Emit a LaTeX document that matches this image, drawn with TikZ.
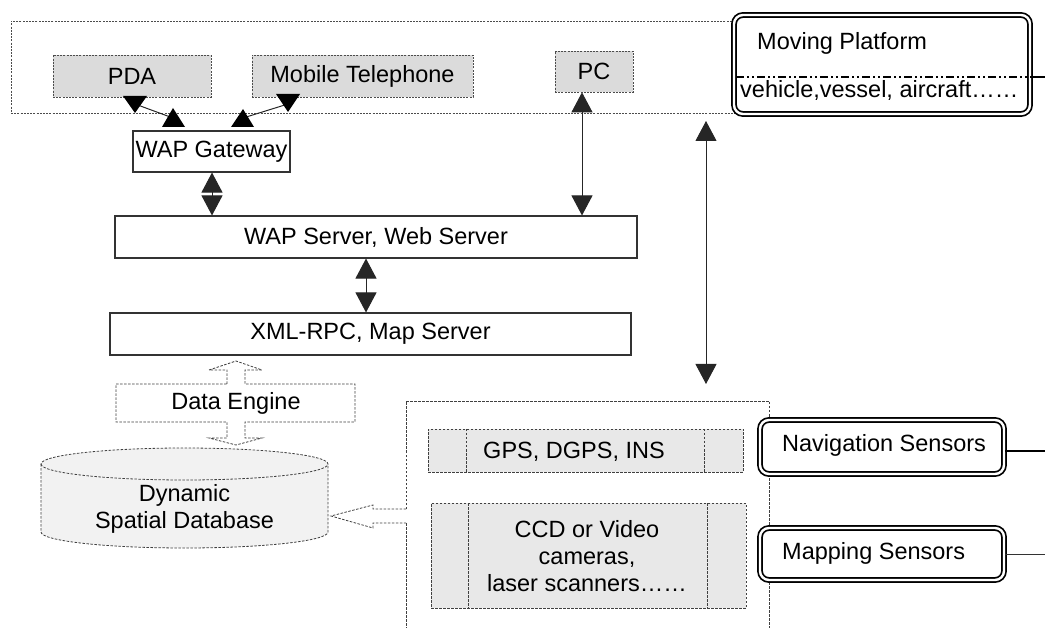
\documentclass[tikz,border=0pt]{standalone}
\usepackage{fontspec}
\setmainfont{Liberation Sans}
\usetikzlibrary{arrows.meta,calc}
\begin{document}
\begin{tikzpicture}[x=1pt,y=-1pt,
  font=\fontsize{23.5}{27}\selectfont,
  dsh/.style={draw=black!75, line width=0.8pt, dash pattern=on 2.5pt off 1.5pt},
  dtd/.style={draw=black!70, line width=0.7pt, dash pattern=on 2pt off 1.2pt},
  graybox/.style={dtd, fill=black!14, inner sep=0pt},
  lightbox/.style={dsh, fill=black!9, inner sep=0pt},
  solidbox/.style={draw=black!80, line width=1.1pt, fill=white, inner sep=0pt},
  dblbox/.style={draw=black, line width=1.7pt, double=white, double distance=2.4pt, rounded corners=9pt, inner sep=0pt},
  conn/.style={draw=black!85, line width=1pt},
  biarrow/.style={conn, {Triangle[width=21pt,length=20pt]}-{Triangle[width=21pt,length=20pt]}},
  lbl/.style={inner sep=0pt, anchor=west},
  txt/.style={inner sep=0pt, align=center}
]
\useasboundingbox (0,0) rectangle (1045,628);

% top zone
\node[dtd, minimum width=724pt, minimum height=92pt, inner sep=0pt] (topzone) at (373,67) {};
\node[graybox, minimum width=158pt, minimum height=42pt] (pda) at (132,76) {PDA};
\node[graybox, minimum width=221pt, minimum height=42pt] (mob) at (362.5,76) {Mobile Telephone};
\node[graybox, minimum width=78pt, minimum height=41pt] (pc) at (594,71.5) {PC};

% moving platform
\node[dblbox, fill=white, minimum width=296pt, minimum height=99pt] (mp) at (882,64.5) {};
\coordinate (mpL) at (736,77);
\coordinate (mpR) at (1032,77);
\coordinate (mpE) at (1045,77);
\draw[draw=black, line width=1.3pt, dash pattern=on 8pt off 3pt on 2pt off 3pt on 2pt off 3pt] (mpL) -- (mpR);
\draw[draw=black, line width=1.3pt] (mpR) -- (mpE);
\node[lbl] (mpt) at (757,43) {Moving Platform};
\node[lbl] (mpv) at (740,90) {vehicle,vessel, aircraft……};

% servers
\node[solidbox, minimum width=157pt, minimum height=41pt] (gw) at (211.5,151.5) {WAP Gateway};
\node[solidbox, minimum width=522pt, minimum height=42pt] (ws) at (376,237) {WAP Server, Web Server};
\node[solidbox, minimum width=521pt, minimum height=42pt] (xml) at (370.5,334) {XML-RPC, Map Server};

% PDA <-> gateway
\coordinate (pdaA) at (135,104);
\coordinate (gwA) at (173,118);
\draw[conn] (pdaA) -- (gwA);
\fill (123,96) -- (147,96) -- (135,113) -- cycle;
\fill (162,127) -- (185,127) -- (173,108) -- cycle;
% Mobile <-> gateway
\coordinate (mobA) at (288,104);
\coordinate (gwB) at (243,118);
\draw[conn] (mobA) -- (gwB);
\fill (276,94) -- (300,94) -- (288,112) -- cycle;
\fill (231,127) -- (254,127) -- (243,109) -- cycle;

\draw[biarrow] (gw.south -| 212,0) -- (ws.north -| 212,0);
\draw[biarrow] (ws.south -| 366,0) -- (xml.north -| 366,0);
\draw[biarrow] (pc.south -| 582,0) -- (ws.north -| 582,0);
\coordinate (lt) at (706,121);
\coordinate (lb) at (706,384);
\draw[biarrow] (lt) -- (lb);

% data engine
\path[dsh, fill=white] (227,384) -- (227,370) -- (209,370) -- (236,361) -- (262,370) -- (245,370) -- (245,384)
  -- (355,384) -- (355,422) -- (245,422) -- (245,438) -- (262,438) -- (236,445) -- (209,438) -- (227,438)
  -- (227,422) -- (116,422) -- (116,384) -- cycle;
\node[txt] (de) at (236,403) {Data Engine};

% database cylinder
\path[dsh, fill=black!5] (41,464) -- (41,532) arc[start angle=180,end angle=360,x radius=143.5pt,y radius=16pt]
  -- (328,464) arc[start angle=0,end angle=180,x radius=143.5pt,y radius=16pt] -- cycle;
\draw[dsh] (41,464) arc[start angle=180,end angle=360,x radius=143.5pt,y radius=16pt];
\node[txt] (db) at (184.5,508.5) {Dynamic\\Spatial Database};

% sensors zone
\draw[dsh] (406,509) -- (406,401) -- (769,401) -- (769,628);
\draw[dsh] (406,523) -- (406,628);
\coordinate (dbR) at (331,516);
\path[dsh, fill=white] (406,509) -- (373,509) -- (373,505) -- (dbR) -- (373,528) -- (373,523) -- (406,523);

\node[lightbox, minimum width=315pt, minimum height=43pt] (gps) at (585.5,450.5) {};
\draw[dsh] (466,429) -- (466,472) (704,429) -- (704,472);
\node[txt] (gpst) at (574,452) {GPS, DGPS, INS};

\node[lightbox, minimum width=315pt, minimum height=105pt] (ccd) at (588.5,555.5) {};
\draw[dsh] (468,503) -- (468,608) (707,503) -- (707,608);
\node[txt] (ccdt) at (587,556) {CCD or Video\\cameras,\\laser scanners……};

% sensor labels
\node[dblbox, fill=white, minimum width=244pt, minimum height=54pt] (nav) at (882,447) {};
\node[lbl] (navt) at (782,445) {Navigation Sensors};
\node[dblbox, fill=white, minimum width=244pt, minimum height=52pt] (map) at (882,554) {};
\node[lbl] (mapt) at (782,553) {Mapping Sensors};
\coordinate (navE) at (1045,451);
\coordinate (mapE) at (1045,554);
\draw[line width=1.3pt] (nav.east |- navE) -- (navE);
\draw[line width=1pt, draw=black!80] (map.east |- mapE) -- (mapE);
\end{tikzpicture}
\end{document}
